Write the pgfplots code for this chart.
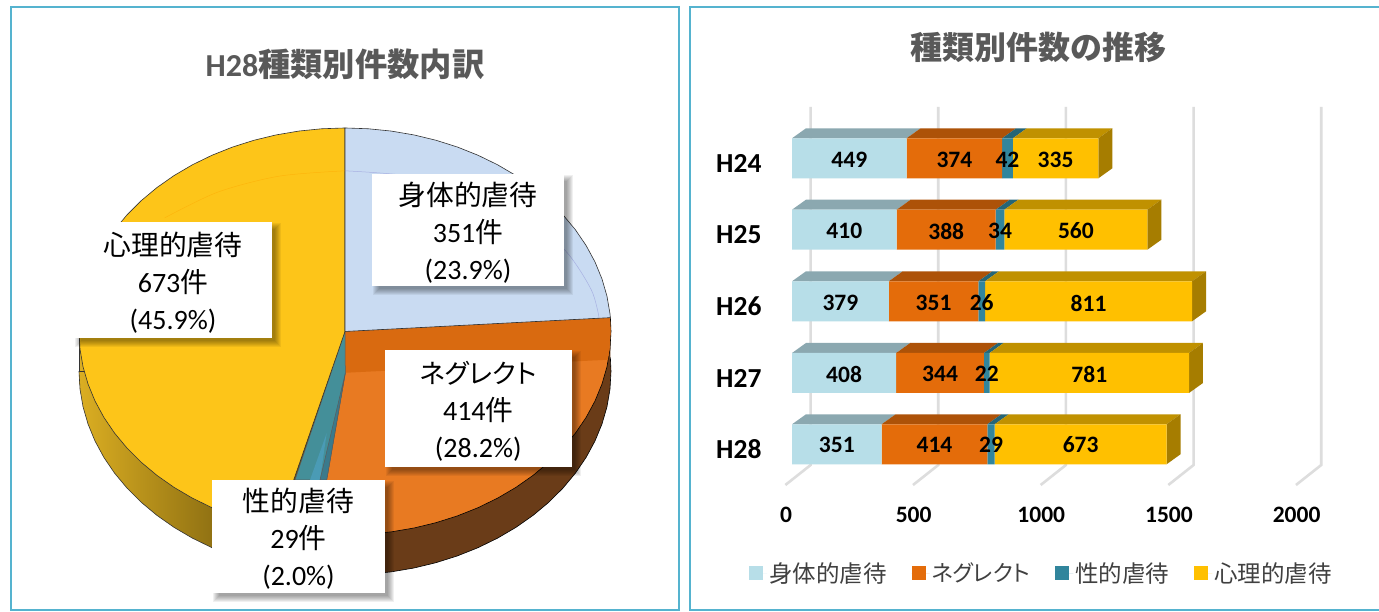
\documentclass[border=0pt]{standalone}
\usepackage{fontspec}
\usepackage{pgfplots}
\usepgfplotslibrary{polar}
\pgfplotsset{compat=1.18}
\setmainfont{Carlito}
\newfontfamily\cjkp[RawFeature=+palt]{Noto Sans CJK JP}
\newfontfamily\cjkf{Noto Sans CJK JP}
\newcommand{\J}[1]{{\cjkp\fontsize{27.8}{37}\selectfont #1}}
\newcommand{\Jk}[1]{{\cjkp\fontsize{26.5}{37}\selectfont #1}}
\definecolor{frameC}{HTML}{55B3CF}
\definecolor{gridC}{HTML}{DDDDDD}
\definecolor{lbF}{HTML}{B7DEE8}\definecolor{lbT}{HTML}{8BA8B0}
\definecolor{orF}{HTML}{E46C0A}\definecolor{orT}{HTML}{AD5208}
\definecolor{teF}{HTML}{31859C}\definecolor{teT}{HTML}{256576}
\definecolor{yeF}{HTML}{FFC000}\definecolor{yeT}{HTML}{C09100}\definecolor{yeS}{HTML}{A67D00}
\definecolor{pieY}{HTML}{FDC519}\definecolor{pieB}{HTML}{C9DBF2}
\definecolor{pieO}{HTML}{E87A22}\definecolor{pieD}{HTML}{D96A10}
\definecolor{wallB}{HTML}{6A3C18}
\definecolor{wallY}{HTML}{DBAE22}\definecolor{wallYd}{HTML}{473604}
\definecolor{tealA}{HTML}{448F99}\definecolor{tealB}{HTML}{4A9BB5}\definecolor{tealC}{HTML}{3A7A8C}
\definecolor{edge}{HTML}{333333}
\newcommand{\labelbox}[5]{%
  \foreach \e in {4,3,2,1,0,-1,-2}{%
    \fill[black,opacity=.06] ({#1+5-\e},{#2+5-\e}) rectangle ({#3+5+\e},{#4+5+\e});}
  \fill[white] (#1,#2) rectangle (#3,#4);
  \node[align=center,inner sep=0pt,font=\fontsize{28}{37}\selectfont,text=black]
    at ({(#1+#3)/2},{(#2+#4)/2+2.5}) {#5};
}
\pgfplotsset{barbase/.style={
  scale only axis,width=510.6pt,height=378pt,
  xmin=0,xmax=2000,ymin=107,ymax=485,y dir=reverse,clip=false,
  at={(792pt,127pt)},anchor=south west}}
\tikzset{dl/.style={font=\bfseries\fontsize{23.5}{28}\selectfont,text=black,inner sep=0pt}}
\begin{document}
\begin{tikzpicture}
\path[use as bounding box] (0pt,0pt) rectangle (1379pt,612pt);
\fill[white] (0pt,0pt) rectangle (1379pt,612pt);
\begin{scope}[x=1pt,y=-1pt,shift={(0pt,612pt)}]
  \draw[frameC,line width=2pt] (10.5,7.5) rectangle (678.5,610.5);
  \draw[frameC,line width=2pt] (1385,7) -- (689.5,7) -- (689.5,610.5) -- (1385,610.5);
\end{scope}

% ---------- PIE ----------
\begin{axis}[at={(0pt,0pt)},anchor=south west,scale only axis,width=1379pt,height=612pt,
  xmin=-345,xmax=1034,ymin=-366.7,ymax=433.3,hide axis,clip=false]
% walls (pushed down by the thickness of the pie)
\addplot[data cs=polar,yshift=-40pt,fill=wallB,draw=black,line width=.6pt] coordinates {
 (0,0)(3.9,266)(0,266)(-5,266)(-10,266)(-15,266)(-20,266)(-25,266)(-30,266)(-35,266)(-40,266)(-45,266)
 (-50,266)(-55,266)(-60,266)(-65,266)(-70,266)(-75,266)(-80,266)(-85,266)(-90,266)(-95,266)(-97.7,266)} -- cycle;
\addplot[fill=wallB,draw=none] coordinates {(265.4,18)(265.4,-34.3)(0,-52.3)(0,0)} -- cycle;
\addplot[data cs=polar,yshift=-40pt,left color=wallY,right color=wallYd,draw=edge,line width=.6pt] coordinates {
 (0,0)(-97.7,266)(-100,266)(-105,266)(-110,266)(-115,266)(-120,266)(-125,266)(-130,266)(-135,266)(-140,266)(-145,266)
 (-150,266)(-155,266)(-160,266)(-165,266)(-170,266)(-175,266)(-180,266)} -- cycle;
\addplot[fill=wallY,draw=none] coordinates {(-266,0)(-266,-52.3)(0,-52.3)(0,0)} -- cycle;
\addplot[draw=edge,line width=.6pt] coordinates {(-266,0)(-266,-52.3)};
% top surface
\addplot[data cs=polar,fill=pieO,draw=black,line width=.6pt] coordinates {
 (0,0)(3.9,266)(0,266)(-5,266)(-10,266)(-15,266)(-20,266)(-25,266)(-30,266)(-35,266)(-40,266)(-45,266)
 (-50,266)(-55,266)(-60,266)(-65,266)(-70,266)(-75,266)(-80,266)(-85,266)(-90,266)(-95,266)(-97.7,266)} -- cycle;
\addplot[data cs=polar,fill=pieD,draw=none] coordinates {
 (0,0)(3.9,265.5)(0,265.5)(-5,265.5)(-8,265.5)(-90,54)} -- cycle;
\addplot[fill=tealA,draw=edge!80,line width=.5pt] coordinates {
 (0,0)(-50,-194.1)(-18.3,-194.1)(0.3,-54.6)} -- cycle;
\addplot[fill=tealB,draw=none] coordinates {(-18.3,-132.7)(-35,-194.1)(-25,-194.1)} -- cycle;
\addplot[fill=tealC,draw=edge!80,line width=.5pt] coordinates {(0.3,-54.6)(-18.3,-194.1)(-25,-194.1)} -- cycle;
\addplot[data cs=polar,fill=pieY,draw=edge,line width=.6pt] coordinates {
 (0,0)(-104.8,266)(-105,266)(-110,266)(-115,266)(-120,266)(-125,266)(-130,266)(-135,266)(-140,266)(-145,266)
 (-150,266)(-155,266)(-160,266)(-165,266)(-170,266)(-175,266)(-180,266)(-185,266)(-190,266)(-195,266)(-200,266)
 (-205,266)(-210,266)(-215,266)(-220,266)(-225,266)(-230,266)(-235,266)(-240,266)(-245,266)(-250,266)(-255,266)
 (-260,266)(-265,266)(-270,266)} -- cycle;
\addplot[data cs=polar,fill=pieB,draw=edge,line width=.6pt] coordinates {
 (0,0)(90,266)(85,266)(80,266)(75,266)(70,266)(65,266)(60,266)(55,266)(50,266)(45,266)(40,266)(35,266)
 (30,266)(25,266)(20,266)(15,266)(10,266)(5,266)(3.9,266)} -- cycle;
% faint bevel rings
\addplot[smooth,draw=blue!30!lightgray,line width=.5pt,opacity=.5] coordinates {(0,210)(66,203)(127.5,182)(180.3,148.5)(220.8,105)(246.3,54.4)(254,18.3)};
\addplot[smooth,draw=orange!70!yellow,line width=.5pt,opacity=.5] coordinates {(0,210)(-66,203)(-127.5,182)(-180.3,148.5)};
\end{axis}

\begin{scope}[x=1pt,y=-1pt,shift={(0pt,612pt)}]
  \labelbox{372}{174}{564}{286}{\J{身体的虐待}\\351\J{件}\\(23.9\%)}
  \labelbox{74}{222}{272}{338}{\J{心理的虐待}\\673\J{件}\\(45.9\%)}
  \labelbox{384.5}{350}{572}{467}{\Jk{ネグレクト}\\414\J{件}\\(28.2\%)}
  \labelbox{212}{480}{385}{593}{\J{性的虐待}\\29\J{件}\\(2.0\%)}
  \node[inner sep=0pt,text={rgb,255:red,89;green,89;blue,89},font=\bfseries\fontsize{32}{36}\selectfont] at (345,64)
    {H28{\cjkf\fontsize{32.3}{36}\selectfont 種類別件数内訳}};
  \node[inner sep=0pt,text={rgb,255:red,89;green,89;blue,89},font=\bfseries\fontsize{32}{36}\selectfont\cjkf] at (1038.5,47)
    {種類別件数の推移};
\end{scope}

% ---------- BAR CHART: gridlines and depth faces ----------
\begin{axis}[barbase,hide axis]
\foreach \v in {0,500,1000,1500,2000}{
  \edef\temp{\noexpand\addplot[draw=gridC,line width=2.6pt,line join=miter] coordinates {({\v-26},485)({\v+73},465)({\v+73},107)};}
  \temp
}
\end{axis}
\begin{axis}[barbase,hide axis]
% H24
\addplot[fill=lbT,draw=none] coordinates {(0,138.3)(449,138.3)(503.8,128.3)(54.8,128.3)} -- cycle;
\addplot[fill=orT,draw=none] coordinates {(449,138.3)(823,138.3)(877.8,128.3)(503.8,128.3)} -- cycle;
\addplot[fill=teT,draw=none] coordinates {(823,138.3)(865,138.3)(919.8,128.3)(877.8,128.3)} -- cycle;
\addplot[fill=yeT,draw=none] coordinates {(865,138.3)(1200,138.3)(1254.8,128.3)(919.8,128.3)} -- cycle;
\addplot[fill=yeS,draw=none] coordinates {(1200,138.3)(1254.8,128.3)(1254.8,168.3)(1200,178.3)} -- cycle;
% H25
\addplot[fill=lbT,draw=none] coordinates {(0,209.7)(410,209.7)(464.8,199.7)(54.8,199.7)} -- cycle;
\addplot[fill=orT,draw=none] coordinates {(410,209.7)(798,209.7)(852.8,199.7)(464.8,199.7)} -- cycle;
\addplot[fill=teT,draw=none] coordinates {(798,209.7)(832,209.7)(886.8,199.7)(852.8,199.7)} -- cycle;
\addplot[fill=yeT,draw=none] coordinates {(832,209.7)(1392,209.7)(1446.8,199.7)(886.8,199.7)} -- cycle;
\addplot[fill=yeS,draw=none] coordinates {(1392,209.7)(1446.8,199.7)(1446.8,239.7)(1392,249.7)} -- cycle;
% H26
\addplot[fill=lbT,draw=none] coordinates {(0,281.3)(379,281.3)(433.8,271.3)(54.8,271.3)} -- cycle;
\addplot[fill=orT,draw=none] coordinates {(379,281.3)(730,281.3)(784.8,271.3)(433.8,271.3)} -- cycle;
\addplot[fill=teT,draw=none] coordinates {(730,281.3)(756,281.3)(810.8,271.3)(784.8,271.3)} -- cycle;
\addplot[fill=yeT,draw=none] coordinates {(756,281.3)(1567,281.3)(1621.8,271.3)(810.8,271.3)} -- cycle;
\addplot[fill=yeS,draw=none] coordinates {(1567,281.3)(1621.8,271.3)(1621.8,311.3)(1567,321.3)} -- cycle;
% H27
\addplot[fill=lbT,draw=none] coordinates {(0,353)(408,353)(462.8,343)(54.8,343)} -- cycle;
\addplot[fill=orT,draw=none] coordinates {(408,353)(752,353)(806.8,343)(462.8,343)} -- cycle;
\addplot[fill=teT,draw=none] coordinates {(752,353)(774,353)(828.8,343)(806.8,343)} -- cycle;
\addplot[fill=yeT,draw=none] coordinates {(774,353)(1555,353)(1609.8,343)(828.8,343)} -- cycle;
\addplot[fill=yeS,draw=none] coordinates {(1555,353)(1609.8,343)(1609.8,383)(1555,393)} -- cycle;
% H28
\addplot[fill=lbT,draw=none] coordinates {(0,424.3)(351,424.3)(405.8,414.3)(54.8,414.3)} -- cycle;
\addplot[fill=orT,draw=none] coordinates {(351,424.3)(765,424.3)(819.8,414.3)(405.8,414.3)} -- cycle;
\addplot[fill=teT,draw=none] coordinates {(765,424.3)(794,424.3)(848.8,414.3)(819.8,414.3)} -- cycle;
\addplot[fill=yeT,draw=none] coordinates {(794,424.3)(1467,424.3)(1521.8,414.3)(848.8,414.3)} -- cycle;
\addplot[fill=yeS,draw=none] coordinates {(1467,424.3)(1521.8,414.3)(1521.8,454.3)(1467,464.3)} -- cycle;
\end{axis}

% ---------- BAR CHART: front faces, ticks, legend ----------
\begin{axis}[barbase,
  xbar stacked,bar width=40pt,
  axis line style={draw=none},major tick length=0pt,
  xtick={0,500,1000,1500,2000},xticklabels={0,500,1000,1500,2000},
  ytick={158.3,229.7,301.3,373,444.3},yticklabels={H24,H25,H26,H27,H28},
  xticklabel style={font=\bfseries\fontsize{23.5}{28}\selectfont,xshift=-6pt,yshift=-19pt},
  yticklabel style={font=\bfseries\fontsize{27.5}{30}\selectfont,xshift=-27pt,yshift=-5pt},
  legend columns=4,
  legend style={at={(axis cs:-168.4,573)},anchor=west,draw=none,fill=none,inner sep=0pt,outer sep=0pt,
    font=\cjkp\fontsize{23.5}{28}\selectfont,text={rgb,255:red,64;green,64;blue,64},
    /tikz/every even column/.append style={column sep=23pt}},
  legend image code/.code={\fill[#1] (0pt,-7pt) rectangle (14pt,7pt);\path (0pt,0pt) -- (18pt,0pt);},
]
\addplot[fill=lbF,draw=none] coordinates {(449,158.3)(410,229.7)(379,301.3)(408,373)(351,444.3)};
\addplot[fill=orF,draw=none] coordinates {(374,158.3)(388,229.7)(351,301.3)(344,373)(414,444.3)};
\addplot[fill=teF,draw=none] coordinates {(42,158.3)(34,229.7)(26,301.3)(22,373)(29,444.3)};
\addplot[fill=yeF,draw=none] coordinates {(335,158.3)(560,229.7)(811,301.3)(781,373)(673,444.3)};
\legend{身体的虐待,{\fontsize{22.4}{28}\selectfont ネグレクト},性的虐待,心理的虐待}
\end{axis}

% ---------- BAR CHART: value labels on top of the stacked bars ----------
\begin{axis}[barbase,hide axis]
\node[dl] at (axis cs:224.5,160) {449};
\node[dl] at (axis cs:636,160) {374};
\node[dl] at (axis cs:844,160) {42};
\node[dl] at (axis cs:1032.5,160) {335};
\node[dl] at (axis cs:205,231) {410};
\node[dl] at (axis cs:604,231) {388};
\node[dl] at (axis cs:815,231) {34};
\node[dl] at (axis cs:1112,231) {560};
\node[dl] at (axis cs:189.5,303) {379};
\node[dl] at (axis cs:554.5,303) {351};
\node[dl] at (axis cs:743,303) {26};
\node[dl] at (axis cs:1161.5,303) {811};
\node[dl] at (axis cs:204,374) {408};
\node[dl] at (axis cs:580,374) {344};
\node[dl] at (axis cs:763,374) {22};
\node[dl] at (axis cs:1164.5,374) {781};
\node[dl] at (axis cs:175.5,445) {351};
\node[dl] at (axis cs:558,445) {414};
\node[dl] at (axis cs:779.5,445) {29};
\node[dl] at (axis cs:1130.5,445) {673};
\end{axis}
\end{tikzpicture}
\end{document}
